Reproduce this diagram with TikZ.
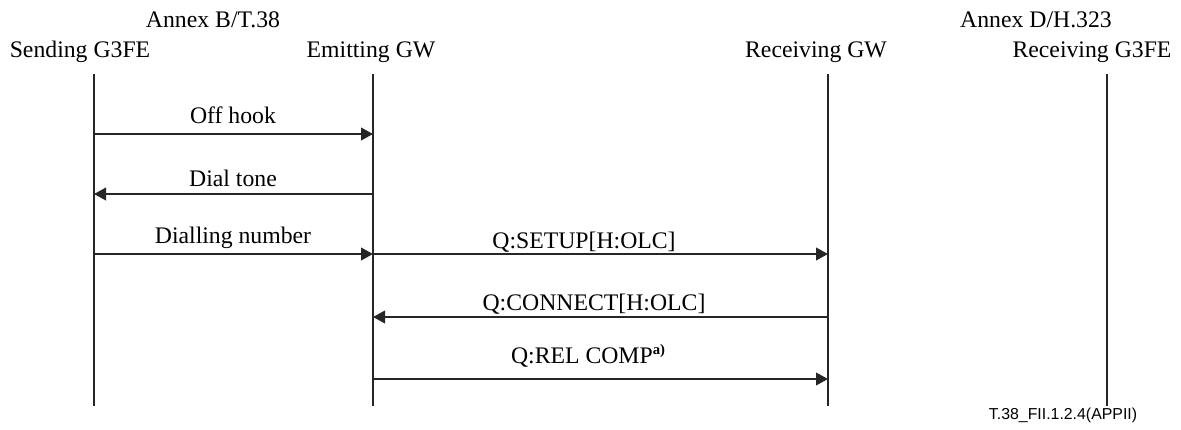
\documentclass[tikz,border=0pt]{standalone}
\usepackage{fontspec}
\setmainfont{Liberation Serif}
\setsansfont{Liberation Sans}
\usepackage{tikz}
\usetikzlibrary{arrows.meta}

\tikzset{
	head/.style 	= {anchor=base, inner sep=0pt, font=\fontsize{17.8}{21}\selectfont},
	msglabel/.style = {anchor=base, inner sep=0pt, font=\fontsize{17.8}{21}\selectfont},
	life/.style 	= {line width=1.5pt, black!85},
	msg/.style 	= {line width=1.3pt, black!85, -{Triangle[length=9pt,width=9.5pt]}},
}

\begin{document}
\begin{tikzpicture}[x=0.75pt,y=-0.75pt]
			%\draw[help lines] (0,0) grid (1181,429);
			\useasboundingbox (0,0) rectangle (1181,429);
			
			\node[head] (annexB) at (213,27) {Annex B/T.38};
			\node[head] (annexD) at (1036,27) {Annex D/H.323};
			
			\node[head] (sendG3) at (80,57) {Sending G3FE};
			\node[head] (emitGW) at (371,57) {Emitting GW};
			\node[head] (recvGW) at (816,57) {Receiving GW};
			\node[head] (recvG3) at (1092,57) {Receiving G3FE};
			
			% lifelines and message ends
			\foreach \n/\x in {s/94,e/373,r/828,f/1107}{
				\coordinate (\n top) at (\x,74);
				\coordinate (\n bot) at (\x,406);
				\draw[life] (\n top) -- (\n bot);
				\foreach \r/\y in {1/134,2/194,3/254,4/317,5/379}
					\coordinate (\n\r) at (\x,\y);
			}
			
			\draw[msg] (s1) -- (e1);
			\draw[msg] (e2) -- (s2);
			\draw[msg] (s3) -- (e3);
			\draw[msg] (e3) -- (r3);
			\draw[msg] (r4) -- (e4);
			\draw[msg] (e5) -- (r5);
			
			\node[msglabel] (offhook) at (233,123) {Off hook};
			\node[msglabel] (dialtone) at (233,186) {Dial tone};
			\node[msglabel] (dialling) at (233,243) {Dialling number};
			\node[msglabel] (setup) at (584,248) {Q:SETUP[H:OLC]};
			\node[msglabel] (connect) at (594,310) {Q:CONNECT[H:OLC]};
			\node[msglabel] (relcomp) at (588,363) {Q:REL COMP\raisebox{6.5pt}{\fontsize{11}{13}\selectfont\bfseries a)}};
			
			\node[anchor=base, inner sep=0pt, font=\sffamily\fontsize{11.9}{14}\selectfont] (figref) at (1063,419) {T.38\_FII.1.2.4(APPII)};
			
\end{tikzpicture}
\end{document}
